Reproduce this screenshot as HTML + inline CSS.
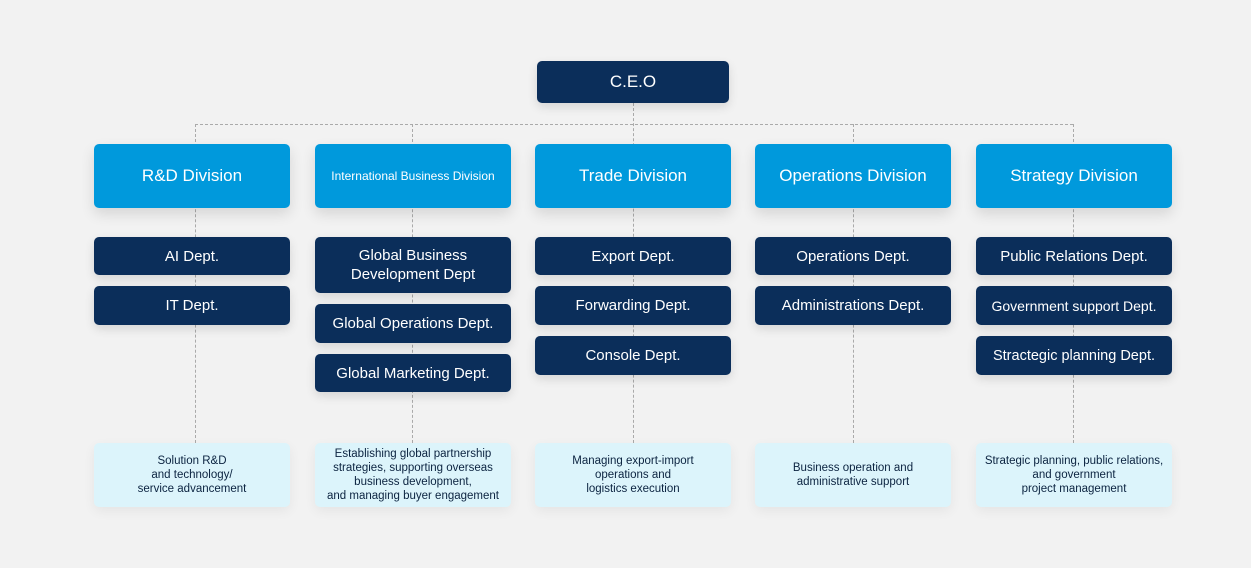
<!DOCTYPE html>
<html><head><meta charset="utf-8"><style>
body{margin:0;width:1251px;height:568px;background:#f2f2f2;font-family:"Liberation Sans",sans-serif;position:relative;overflow:hidden}
.b{position:absolute;display:flex;align-items:center;justify-content:center;text-align:center;border-radius:5px;box-sizing:border-box;z-index:2}
.c{background:#0b2e5a;color:#fff;font-size:15px;box-shadow:0 4px 10px rgba(0,0,0,.12)}
.d{background:#0099dc;color:#fff;font-size:17px;box-shadow:0 6px 14px rgba(0,0,0,.12)}
.e{background:#dcf4fb;color:#0b2340;font-size:11.5px;line-height:14px;box-shadow:0 4px 12px rgba(0,0,0,.06)}
.v{position:absolute;border-left:1px dashed #aaa;width:0;z-index:1}
.h{position:absolute;border-top:1px dashed #aaa;height:0;z-index:1}
</style></head><body>
<div class="h" style="left:195px;top:124px;width:878px"></div>
<div class="v" style="left:633px;top:103px;height:340px"></div>
<div class="v" style="left:195px;top:124px;height:319px"></div>
<div class="v" style="left:412px;top:124px;height:319px"></div>
<div class="v" style="left:853px;top:124px;height:319px"></div>
<div class="v" style="left:1073px;top:124px;height:319px"></div>

<div class="b c" style="left:537px;top:61px;width:192px;height:42px;font-size:17px">C.E.O</div>

<div class="b d" style="left:94px;top:144px;width:196px;height:64px">R&amp;D Division</div>
<div class="b d" style="left:315px;top:144px;width:196px;height:64px;font-size:12px">International Business Division</div>
<div class="b d" style="left:535px;top:144px;width:196px;height:64px">Trade Division</div>
<div class="b d" style="left:755px;top:144px;width:196px;height:64px">Operations Division</div>
<div class="b d" style="left:976px;top:144px;width:196px;height:64px">Strategy Division</div>

<div class="b c" style="left:94px;top:237px;width:196px;height:38px">AI Dept.</div>
<div class="b c" style="left:94px;top:286px;width:196px;height:39px">IT Dept.</div>

<div class="b c" style="left:315px;top:237px;width:196px;height:56px;line-height:19px">Global Business<br>Development Dept</div>
<div class="b c" style="left:315px;top:304px;width:196px;height:39px">Global Operations Dept.</div>
<div class="b c" style="left:315px;top:354px;width:196px;height:38px">Global Marketing Dept.</div>

<div class="b c" style="left:535px;top:237px;width:196px;height:38px">Export Dept.</div>
<div class="b c" style="left:535px;top:286px;width:196px;height:39px">Forwarding Dept.</div>
<div class="b c" style="left:535px;top:336px;width:196px;height:39px">Console Dept.</div>

<div class="b c" style="left:755px;top:237px;width:196px;height:38px">Operations Dept.</div>
<div class="b c" style="left:755px;top:286px;width:196px;height:39px">Administrations Dept.</div>

<div class="b c" style="left:976px;top:237px;width:196px;height:38px">Public Relations Dept.</div>
<div class="b c" style="left:976px;top:286px;width:196px;height:39px;font-size:14px">Government support Dept.</div>
<div class="b c" style="left:976px;top:336px;width:196px;height:39px;font-size:14.5px">Stractegic planning Dept.</div>

<div class="b e" style="left:94px;top:443px;width:196px;height:64px">Solution R&amp;D<br>and technology/<br>service advancement</div>
<div class="b e" style="left:315px;top:443px;width:196px;height:64px">Establishing global partnership<br>strategies, supporting overseas<br>business development,<br>and managing buyer engagement</div>
<div class="b e" style="left:535px;top:443px;width:196px;height:64px">Managing export-import<br>operations and<br>logistics execution</div>
<div class="b e" style="left:755px;top:443px;width:196px;height:64px">Business operation and<br>administrative support</div>
<div class="b e" style="left:976px;top:443px;width:196px;height:64px">Strategic planning, public relations,<br>and government<br>project management</div>
</body></html>
